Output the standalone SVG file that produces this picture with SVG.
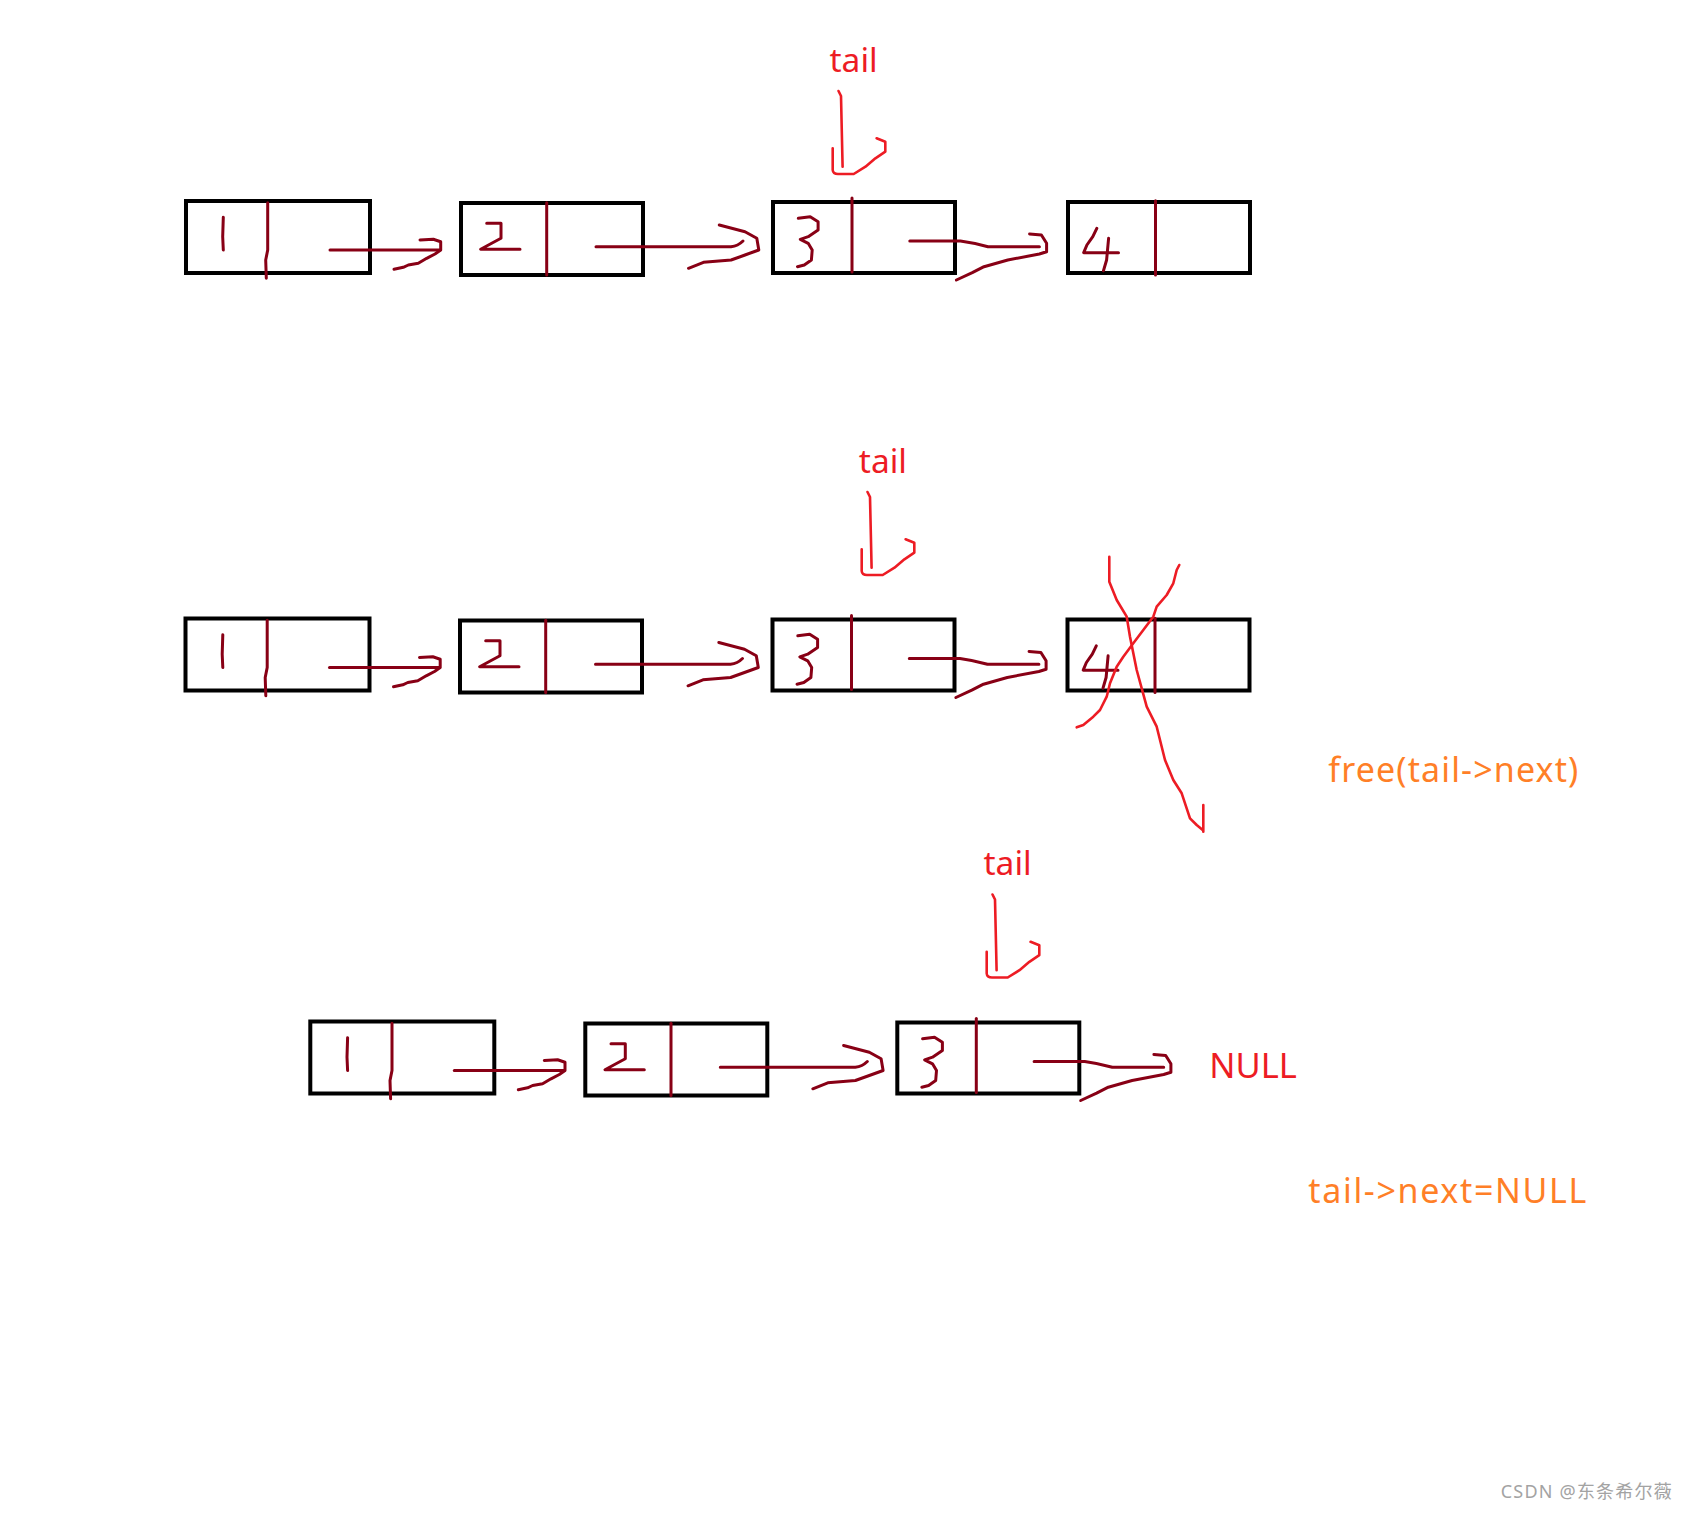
<svg xmlns="http://www.w3.org/2000/svg" width="1688" height="1514" viewBox="0 0 1688 1514">
<style>
.box{fill:none;stroke:#000;stroke-width:4}
.ink{fill:none;stroke:#880015;stroke-width:3;stroke-linecap:round;stroke-linejoin:round}
.red{fill:none;stroke:#ED1C24;stroke-width:2.6;stroke-linecap:round;stroke-linejoin:round}
.lbl{font-family:"Noto Sans","Open Sans","Liberation Sans",sans-serif;fill:#ED1C24;font-size:33.5px}
.note{font-family:"Noto Sans","Open Sans","Liberation Sans",sans-serif;fill:#FF7F27;font-size:34px}
.wm{font-family:"Noto Sans","Noto Sans CJK SC",sans-serif;fill:#a3a3a3;font-size:18px}
</style>
<rect width="1688" height="1514" fill="#fff"/>

<!-- Row 1 nodes -->
<g id="r1-n1"><rect class="box" x="186" y="201" width="184" height="72"/><path class="ink" d="M223.3,217.3 L222.7,236.7 L223.3,250"/><path class="ink" d="M267.7,202.7 L267.7,250 L265.7,260 L266.3,278.3"/></g>
<g id="r1-n2"><rect class="box" x="461" y="203" width="182" height="72"/><path class="ink" d="M486.7,223.3 L501,223.3 L501,238.3 L491.7,243.3 L480.7,249.3 L520,249.3"/><path class="ink" d="M546.7,202.7 L546.7,275"/></g>
<g id="r1-n3"><rect class="box" x="773" y="202" width="182" height="71"/><path class="ink" d="M798.3,218.3 L810.2,216.7 L818.1,221.7 L818.1,230 L808.2,236.7 L800.3,239.3 L808.2,243.3 L812.2,250 L811.4,260 L804.3,265 L797.5,266.7"/><path class="ink" d="M852,198 L852,272"/></g>
<g id="r1-n4"><rect class="box" x="1068" y="202" width="182" height="71"/><path class="ink" d="M1096.8,228.3 L1092.8,236.7 L1086.9,245 L1083.7,252.7 L1118.5,252.7 M1108.6,238.3 L1106.6,260 L1103.5,270.7"/><path class="ink" d="M1155.5,200.7 L1155.5,275"/></g>

<!-- Row 2 nodes -->
<g id="r2-n1" transform="translate(-0.5,417.5)"><rect class="box" x="186" y="201" width="184" height="72"/><path class="ink" d="M223.3,217.3 L222.7,236.7 L223.3,250"/><path class="ink" d="M267.7,202.7 L267.7,250 L265.7,260 L266.3,278.3"/></g>
<g id="r2-n2" transform="translate(-1,417.5)"><rect class="box" x="461" y="203" width="182" height="72"/><path class="ink" d="M486.7,223.3 L501,223.3 L501,238.3 L491.7,243.3 L480.7,249.3 L520,249.3"/><path class="ink" d="M546.7,202.7 L546.7,275"/></g>
<g id="r2-n3" transform="translate(-0.5,417.5)"><rect class="box" x="773" y="202" width="182" height="71"/><path class="ink" d="M798.3,218.3 L810.2,216.7 L818.1,221.7 L818.1,230 L808.2,236.7 L800.3,239.3 L808.2,243.3 L812.2,250 L811.4,260 L804.3,265 L797.5,266.7"/><path class="ink" d="M852,198 L852,272"/></g>
<g id="r2-n4" transform="translate(-0.5,417.5)"><rect class="box" x="1068" y="202" width="182" height="71"/><path class="ink" d="M1096.8,228.3 L1092.8,236.7 L1086.9,245 L1083.7,252.7 L1118.5,252.7 M1108.6,238.3 L1106.6,260 L1103.5,270.7"/><path class="ink" d="M1155.5,200.7 L1155.5,275"/></g>

<!-- Row 3 nodes -->
<g id="r3-n1" transform="translate(124.3,820.5)"><rect class="box" x="186" y="201" width="184" height="72"/><path class="ink" d="M223.3,217.3 L222.7,236.7 L223.3,250"/><path class="ink" d="M267.7,202.7 L267.7,250 L265.7,260 L266.3,278.3"/></g>
<g id="r3-n2" transform="translate(124.3,820.5)"><rect class="box" x="461" y="203" width="182" height="72"/><path class="ink" d="M486.7,223.3 L501,223.3 L501,238.3 L491.7,243.3 L480.7,249.3 L520,249.3"/><path class="ink" d="M546.7,202.7 L546.7,275"/></g>
<g id="r3-n3" transform="translate(124.3,820.5)"><rect class="box" x="773" y="202" width="182" height="71"/><path class="ink" d="M798.3,218.3 L810.2,216.7 L818.1,221.7 L818.1,230 L808.2,236.7 L800.3,239.3 L808.2,243.3 L812.2,250 L811.4,260 L804.3,265 L797.5,266.7"/><path class="ink" d="M852,198 L852,272"/></g>

<!-- Labels -->
<g id="tail-label-1"><text class="lbl" x="829.5" y="71.7">tail</text></g>
<g id="tail-label-2"><text class="lbl" x="858.8" y="472.7">tail</text></g>
<g id="tail-label-3"><text class="lbl" x="983.5" y="875">tail</text></g>
<g id="null-label"><text class="lbl" x="1209.3" y="1078.3" style="font-size:34.5px">NULL</text></g>
<g id="note-free"><text class="note" x="1328.3" y="781.7" textLength="250">free(tail-&gt;next)</text></g>
<g id="note-null"><text class="note" x="1308.3" y="1203.3" textLength="278">tail-&gt;next=NULL</text></g>

<!-- Delete mark on node 4 (row 2) -->
<g id="delete-mark">
<path class="red" d="M1109.3,556.7 L1109.3,581.7 L1116.7,600 L1126.7,616.7 L1130,636.7 L1136.7,670 L1146.7,706.7 L1156.7,726.7 L1165,760 L1173.3,780 L1181.7,793.3 L1190,818.3 L1196.7,825 L1202.7,830 M1203.3,805 L1203.3,831.7"/>
<path class="red" d="M1179.3,565 L1176.7,570 L1173.3,583.3 L1166.7,595 L1156.7,606.7 L1153.3,616.7 L1143.3,630 L1133.3,643.3 L1123.3,656.7 L1116.7,666.7 L1110,683.3 L1106.7,696.7 L1100,710 L1093.3,716.7 L1083.3,725 L1076.7,727.3"/>
</g>

<!-- Connectors -->
<g id="connectors">
 <g id="r1-links">
  <path class="ink" d="M330,250 L440,250"/>
  <path class="ink" d="M420,240 L433.3,239.3 L440.7,241.7 L440.7,250 L435,254 L426.7,258.3 L418.3,263.3 L408.3,265 L403.3,267.3 L394,269.3"/>
  <path class="ink" d="M596,246.7 L731,246.7 Q738,246 743,241"/>
  <path class="ink" d="M719.3,225 L745,231.7 L756.8,238.3 L758.8,250 L745,255 L731.1,260 L703.5,262.3 L688.5,268.3"/>
  <path class="ink" d="M909.8,241 L960.4,241 Q975,243 988,246.7 L1039.4,246.7"/>
  <path class="ink" d="M1029.6,234 L1041.4,235 L1046.6,243.3 L1046.6,251.7 L1039.4,254 L1007.8,260 L984,266.7 L972.3,272.7 L956.4,280"/>
 </g>
 <g id="r2-links" transform="translate(-0.5,417.5)">
  <path class="ink" d="M330,250 L440,250"/>
  <path class="ink" d="M420,240 L433.3,239.3 L440.7,241.7 L440.7,250 L435,254 L426.7,258.3 L418.3,263.3 L408.3,265 L403.3,267.3 L394,269.3"/>
  <path class="ink" d="M596,246.7 L731,246.7 Q738,246 743,241"/>
  <path class="ink" d="M719.3,225 L745,231.7 L756.8,238.3 L758.8,250 L745,255 L731.1,260 L703.5,262.3 L688.5,268.3"/>
  <path class="ink" d="M909.8,241 L960.4,241 Q975,243 988,246.7 L1039.4,246.7"/>
  <path class="ink" d="M1029.6,234 L1041.4,235 L1046.6,243.3 L1046.6,251.7 L1039.4,254 L1007.8,260 L984,266.7 L972.3,272.7 L956.4,280"/>
 </g>
 <g id="r3-links" transform="translate(124.3,820.5)">
  <path class="ink" d="M330,250 L440,250"/>
  <path class="ink" d="M420,240 L433.3,239.3 L440.7,241.7 L440.7,250 L435,254 L426.7,258.3 L418.3,263.3 L408.3,265 L403.3,267.3 L394,269.3"/>
  <path class="ink" d="M596,246.7 L731,246.7 Q738,246 743,241"/>
  <path class="ink" d="M719.3,225 L745,231.7 L756.8,238.3 L758.8,250 L745,255 L731.1,260 L703.5,262.3 L688.5,268.3"/>
  <path class="ink" d="M909.8,241 L960.4,241 Q975,243 988,246.7 L1039.4,246.7"/>
  <path class="ink" d="M1029.6,234 L1041.4,235 L1046.6,243.3 L1046.6,251.7 L1039.4,254 L1007.8,260 L984,266.7 L972.3,272.7 L956.4,280"/>
 </g>
 <g id="tail-ptr-1">
  <path class="red" d="M838.5,91 L841,96 L842.6,166.7"/>
  <path class="red" d="M832.7,148.3 L832.7,170 Q833,174 838,174 L853.7,174 L865.5,166.7 L875.4,158.3 L885.3,151.7 L885.3,141.7 L876.6,138.3"/>
 </g>
 <g id="tail-ptr-2" transform="translate(29,401)">
  <path class="red" d="M838.5,91 L841,96 L842.6,166.7"/>
  <path class="red" d="M832.7,148.3 L832.7,170 Q833,174 838,174 L853.7,174 L865.5,166.7 L875.4,158.3 L885.3,151.7 L885.3,141.7 L876.6,138.3"/>
 </g>
 <g id="tail-ptr-3" transform="translate(154,803.5)">
  <path class="red" d="M838.5,91 L841,96 L842.6,166.7"/>
  <path class="red" d="M832.7,148.3 L832.7,170 Q833,174 838,174 L853.7,174 L865.5,166.7 L875.4,158.3 L885.3,151.7 L885.3,141.7 L876.6,138.3"/>
 </g>
</g>

<g id="watermark"><text class="wm" x="1500.7" y="1498.3" textLength="171">CSDN @东条希尔薇</text></g>
</svg>
